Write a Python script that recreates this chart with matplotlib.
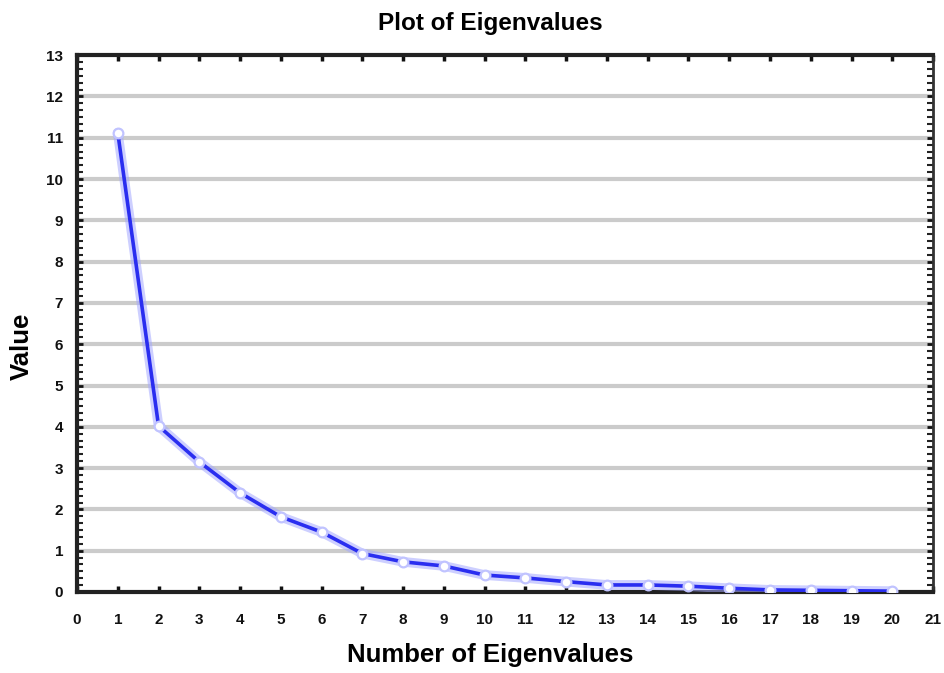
import matplotlib
matplotlib.use("Agg")
import matplotlib.pyplot as plt
from matplotlib.ticker import MultipleLocator
import numpy as np

# Scree plot data
components = list(range(1, 21))
eigenvalues = [11.12, 4.02, 3.15, 2.40, 1.82, 1.45, 0.93, 0.73, 0.63, 0.41,
               0.34, 0.25, 0.17, 0.17, 0.14, 0.09, 0.05, 0.04, 0.03, 0.02]
x_ticks = list(range(0, 22))
y_ticks = list(range(0, 14))

plt.rcParams['font.family'] = ['Liberation Sans', 'DejaVu Sans']

fig = plt.figure(figsize=(9.44, 6.73), dpi=100)
ax = fig.add_axes([0.0816, 0.1204, 0.9068, 0.7976])

ax.set_xlim(0, 21)
ax.set_ylim(0, 13)
ax.set_xticks(x_ticks)
ax.set_yticks(y_ticks)
ax.yaxis.set_minor_locator(MultipleLocator(1 / 6))

# horizontal grid
for v in y_ticks[1:-1]:
    ax.axhline(v, color='#cbcbcb', lw=3.0, zorder=1)

# soft halo + core line
ax.plot(components, eigenvalues, color='#a4a8ff', lw=7, alpha=0.55,
        solid_capstyle='round', zorder=3)
ax.plot(components, eigenvalues, color='#2a2ef0', lw=2.6, zorder=4,
        marker='o', markersize=7, markerfacecolor='white',
        markeredgecolor='#c0c3ff', markeredgewidth=1.6)

for side in ['left', 'bottom', 'top']:
    ax.spines[side].set_linewidth(3)
    ax.spines[side].set_color('#222222')
ax.spines['right'].set_linewidth(2)
ax.spines['right'].set_color('#333333')

ax.tick_params(axis='x', which='major', direction='in', length=4, width=2.5,
               top=True, bottom=True, labelsize=11, pad=15, colors='#111111')
ax.tick_params(axis='y', which='major', direction='in', length=4, width=2,
               left=True, right=True, labelsize=11, pad=10, colors='#111111')
ax.tick_params(axis='y', which='minor', direction='in', length=4, width=1.5,
               left=True, right=True, colors='#222222')
for lbl in ax.get_xticklabels() + ax.get_yticklabels():
    lbl.set_fontweight('bold')

ax.set_title('Plot of Eigenvalues', fontsize=17.5, fontweight='bold',
             x=0.4825, pad=18)
ax.set_xlabel('Number of Eigenvalues', fontsize=18.5, fontweight='bold')
ax.set_ylabel('Value', fontsize=18.5, fontweight='bold')
ax.xaxis.set_label_coords(0.4825, -0.095)
ax.yaxis.set_label_coords(-0.051, 0.457)

fig.savefig('out.png', dpi=100)
